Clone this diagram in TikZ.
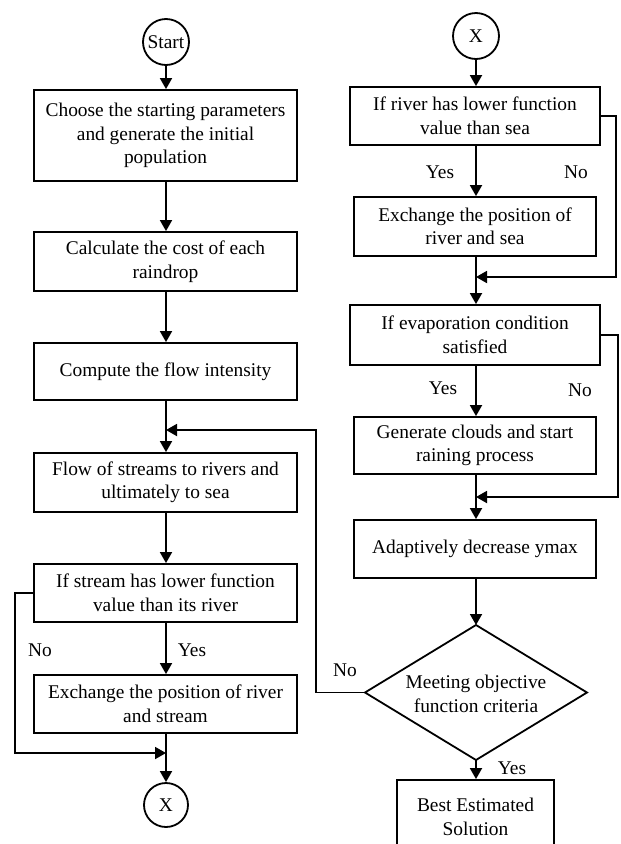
\documentclass[tikz,border=0pt]{standalone}
\usepackage{fontspec}
\setmainfont{Liberation Serif}
\usetikzlibrary{shapes.geometric,arrows.meta}
\begin{document}
\begin{tikzpicture}[x=1pt,y=-1pt,
  every node/.style={font=\fontsize{19.4}{23.5}\selectfont},
  box/.style={draw,line width=1.8pt,align=center,inner sep=1pt},
  circ/.style={draw,circle,line width=1.8pt,inner sep=0pt},
  lbl/.style={inner sep=0pt},
  flow/.style={line width=1.8pt,-{Triangle[length=11pt,width=12pt]}},
  line/.style={line width=1.8pt,line join=miter}]
\useasboundingbox (0,0) rectangle (621,844);
% left column
\node[circ,minimum size=46pt] (start) at (166,42) {Start};
\node[box,minimum width=263pt,minimum height=91pt] (b1) at (165.5,135.5) {Choose the starting parameters\\and generate the initial\\population};
\node[box,minimum width=263pt,minimum height=59pt] (b2) at (165.5,261.5) {Calculate the cost of each\\raindrop};
\node[box,minimum width=263pt,minimum height=57pt] (b3) at (165.5,371.5) {Compute the flow intensity};
\node[box,minimum width=263pt,minimum height=59pt] (b4) at (165.5,482.5) {Flow of streams to rivers and\\ultimately to sea};
\node[box,minimum width=263pt,minimum height=58pt] (b5) at (165.5,593) {If stream has lower function\\value than its river};
\node[box,minimum width=263pt,minimum height=58pt] (b6) at (165.5,704) {Exchange the position of river\\and stream};
\node[circ,minimum size=44pt] (xl) at (166,805) {X};
\coordinate (j1) at (166,430);
\coordinate (j2) at (166,753);
\node[lbl] (noL) at (40,650) {No};
\node[lbl] (yesL) at (192,650) {Yes};
% right column
\node[circ,minimum size=46pt] (xr) at (476,36) {X};
\node[box,minimum width=250pt,minimum height=58pt] (r1) at (475,116) {If river has lower function\\value than sea};
\node[box,minimum width=242pt,minimum height=59pt] (r2) at (475,226.5) {Exchange the position of\\river and sea};
\node[box,minimum width=250pt,minimum height=60pt] (r3) at (475,335) {If evaporation condition\\satisfied};
\node[box,minimum width=242pt,minimum height=57pt] (r4) at (475,445.5) {Generate clouds and start\\raining process};
\node[box,minimum width=242pt,minimum height=58pt] (r5) at (475,549) {Adaptively decrease ymax};
% decision diamond
\coordinate (dN) at (476,625);
\coordinate (dS) at (476,760);
\coordinate (dW) at (365,692.5);
\coordinate (dE) at (587,692.5);
\draw[line] (dN) -- (dE) -- (dS) -- (dW) -- cycle;
\node[align=center,inner sep=0pt] (d) at (476,694) {Meeting objective\\function criteria};
\node[box,minimum width=157pt,minimum height=74pt] (r6) at (475.5,817) {Best Estimated\\Solution};
\coordinate (j3) at (476,277);
\coordinate (j4) at (476,497);
\node[lbl] (yesR1) at (440,172) {Yes};
\node[lbl] (noR1) at (576,172) {No};
\node[lbl] (yesR3) at (443,388) {Yes};
\node[lbl] (noR3) at (580,390) {No};
\node[lbl] (noD) at (345,670) {No};
\node[lbl] (yesD) at (512,768) {Yes};
% connectors left
\draw[flow] (start.south) -- (b1.north -| start);
\draw[flow] (b1.south -| j1) -- (b2.north -| j1);
\draw[flow] (b2.south -| j1) -- (b3.north -| j1);
\draw[flow] (b3.south -| j1) -- (b4.north -| j1);
\draw[flow] (b4.south -| j1) -- (b5.north -| j1);
\draw[flow] (b5.south -| j1) -- (b6.north -| j1);
\draw[flow] (b6.south -| j1) -- (xl.north);
\draw[flow] (b5.west) -- (15,593) -- (15,753) -- (j2);
\draw[flow] (dW) -- (316,692.5) -- (316,430) -- (j1);
% connectors right
\draw[flow] (xr.south) -- (r1.north -| xr);
\draw[flow] (r1.south -| xr) -- (r2.north -| xr);
\draw[flow] (r2.south -| xr) -- (r3.north -| xr);
\draw[flow] (r1.east) -- (616,116) -- (616,277) -- (j3);
\draw[flow] (r3.south -| xr) -- (r4.north -| xr);
\draw[flow] (r4.south -| xr) -- (r5.north -| xr);
\draw[flow] (r3.east) -- (618,335) -- (618,497) -- (j4);
\draw[flow] (r5.south -| xr) -- (dN);
\draw[flow] (dS) -- (r6.north -| dS);
\end{tikzpicture}
\end{document}
